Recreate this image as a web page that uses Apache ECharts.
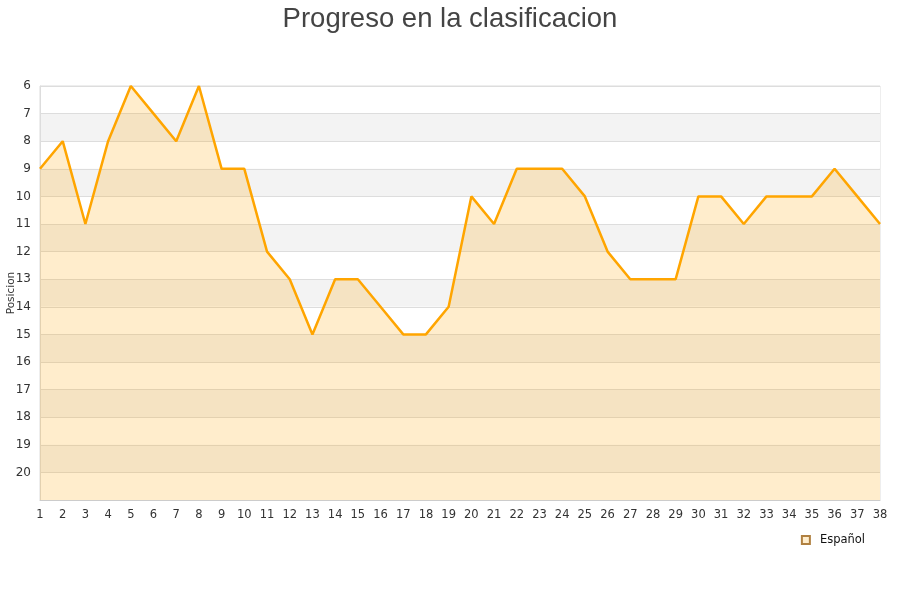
<!DOCTYPE html>
<html>
<head>
<meta charset="utf-8">
<script src="https://cdn.jsdelivr.net/npm/echarts@6/dist/echarts.min.js"></script>
<style>
  html, body { margin: 0; padding: 0; background: #fff; }
  #main { width: 900px; height: 600px; }
</style>
</head>
<body>
<div id="main"></div>
<script>
// datos
const jornadas = ["1","2","3","4","5","6","7","8","9","10","11","12","13","14","15","16","17","18","19","20","21","22","23","24","25","26","27","28","29","30","31","32","33","34","35","36","37","38"]
const posiciones = [9,8,11,8,6,7,8,6,9,9,12,13,15,13,13,14,15,15,14,10,11,9,9,9,10,12,13,13,13,10,10,11,10,10,10,9,10,11]
const equipo = "Español"

const chart = echarts.init(document.getElementById("main"), null, { renderer: "canvas" })
const option = {
    animation: false,
    title: {
        text: "Progreso en la clasificacion",
        left: "center",
        top: 0,
        textStyle: { fontFamily: "Liberation Sans", fontSize: 27.5, fontWeight: "normal", color: "#444" },
    },
    grid: {
        left: 40, right: 20, top: 86, bottom: 100,
        containLabel: false, outerBoundsMode: "none",
        show: true, borderColor: "#ddd", borderWidth: 1,
    },
    legend: {
        data: [equipo],
        right: 30, top: 529,
        icon: "rect", itemWidth: 8, itemHeight: 8, itemGap: 10,
        textStyle: { fontFamily: "DejaVu Sans", fontSize: 11.5, color: "#111", padding: [0, 0, 0, 5] },
    },
    xAxis: {
        type: "category",
        data: jornadas,
        boundaryGap: false,
        axisLine: { lineStyle: { color: "#ccc" } },
        axisTick: { show: false },
        axisLabel: { fontFamily: "DejaVu Sans", fontSize: 11.5, color: "#333", margin: 9, interval: 0 },
        splitLine: { show: false },
    },
    yAxis: {
        type: "value",
        inverse: true,
        min: 6, max: 21, interval: 1,
        name: "Posicion",
        nameLocation: "middle",
        nameGap: 23,
        nameMoveOverlap: false,
        nameTextStyle: { fontFamily: "DejaVu Sans", fontSize: 10.5, color: "#333" },
        axisLine: { show: true, lineStyle: { color: "#ddd" } },
        axisTick: { show: false },
        axisLabel: {
            fontFamily: "DejaVu Sans", fontSize: 12, color: "#333", margin: 9,
            formatter: v => (v === 21 ? "" : v),
        },
        splitLine: { show: true, lineStyle: { color: "#ddd" } },
        splitArea: { show: true, areaStyle: { color: ["#ffffff", "#f3f3f3"] } },
    },
    series: [
        {
            name: equipo,
            type: "line",
            data: posiciones,
            symbol: "none",
            lineStyle: { color: "#ffa500", width: 2.5 },
            itemStyle: { color: "#ffedcc", borderColor: "#b08040", borderWidth: 1 },
            areaStyle: { color: "rgba(255,165,0,0.2)", opacity: 1, origin: "end" },
        },
    ],
}
chart.setOption(option)
</script>
</body>
</html>
